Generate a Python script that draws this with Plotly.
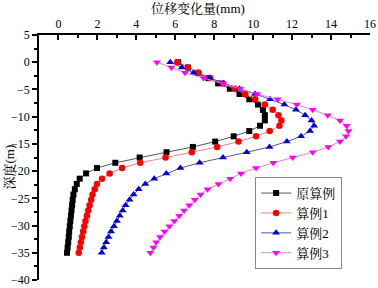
import plotly.graph_objects as go

depth = [0, -0.97, -1.94, -2.92, -3.89, -4.86, -5.83, -6.81, -7.78, -8.75,
         -9.72, -10.69, -11.67, -12.64, -13.61, -14.58, -15.56, -16.53, -17.5, -18.47,
         -19.44, -20.42, -21.39, -22.36, -23.33, -24.31, -25.28, -26.25, -27.22, -28.19,
         -29.17, -30.14, -31.11, -32.08, -33.06, -34.03, -35]

orig = [6.15, 6.65, 7.15, 7.7, 8.2, 8.8, 9.3, 9.8, 10.25, 10.5,
        10.6, 10.6, 10.35, 9.8, 9.0, 8.05, 6.9, 5.55, 4.17, 2.92,
        1.98, 1.42, 1.09, 0.94, 0.84, 0.77, 0.73, 0.70, 0.67, 0.64,
        0.61, 0.58, 0.55, 0.53, 0.50, 0.47, 0.44]

case1 = [6.1, 6.65, 7.2, 7.8, 8.45, 9.05, 9.6, 10.1, 10.6, 11.0,
         11.3, 11.45, 11.35, 10.85, 10.15, 9.25, 8.15, 6.85, 5.5, 4.2,
         3.27, 2.63, 2.24, 1.98, 1.86, 1.75, 1.68, 1.6, 1.53, 1.46,
         1.39, 1.33, 1.27, 1.21, 1.15, 1.1, 1.04]

case2 = [5.74, 6.34, 6.94, 7.76, 8.48, 9.3, 10.1, 10.87, 11.6, 12.2,
         12.67, 13.0, 13.13, 12.92, 12.46, 11.73, 10.84, 9.67, 8.45, 7.25,
         6.26, 5.54, 4.92, 4.46, 4.12, 3.86, 3.65, 3.45, 3.3, 3.15,
         3.0, 2.85, 2.7, 2.57, 2.45, 2.33, 2.22]

case3 = [5.06, 5.8, 6.5, 7.45, 8.45, 9.33, 10.2, 11.26, 12.24, 13.06,
         13.83, 14.46, 14.8, 14.9, 14.77, 14.46, 13.86, 13.06, 12.03, 11.04,
         10.15, 9.38, 8.82, 8.22, 7.66, 7.3, 7.0, 6.72, 6.45, 6.2,
         5.95, 5.7, 5.45, 5.22, 5.02, 4.88, 4.72]

names = ["原算例", "算例1", "算例2", "算例3"]
series = [orig, case1, case2, case3]
marker_colors = ["#000000", "#FF0000", "#0000CC", "#FF00FF"]
line_colors = ["#555555", "#E88080", "#5555AA", "#E080E0"]
symbols = ["square", "circle", "triangle-up", "triangle-down"]
marker_sizes = [6, 6.5, 7, 7]

fig = go.Figure()
for name, xs, mc, lc, sym, ms in zip(names, series, marker_colors, line_colors, symbols, marker_sizes):
    fig.add_trace(go.Scatter(
        x=xs, y=depth, mode="lines+markers", name=name,
        line=dict(color=lc, width=1),
        marker=dict(symbol=sym, color=mc, size=ms, line=dict(width=0)),
    ))

font_fam = "Liberation Serif, Noto Serif CJK SC, Noto Sans CJK SC, serif"
fig.update_layout(
    width=378, height=288,
    margin=dict(l=39, r=8, t=35, b=8),
    paper_bgcolor="white", plot_bgcolor="white",
    font=dict(family=font_fam, size=13, color="black"),
    showlegend=True,
    legend=dict(
        x=0.653, y=0.42, xanchor="left", yanchor="top",
        bordercolor="#888888", borderwidth=1, bgcolor="white",
        font=dict(family=font_fam, size=13),
        tracegroupgap=0, itemwidth=30,
    ),
    xaxis=dict(
        range=[-1, 16], side="top", dtick=2, tick0=0,
        showgrid=False, zeroline=False, automargin=False,
        showline=True, linecolor="black", linewidth=1.5,
        ticks="inside", ticklen=5, tickwidth=1.5, tickcolor="black",
        minor=dict(dtick=1, ticks="inside", ticklen=3, tickcolor="black"),
        tickfont=dict(family=font_fam, size=12),
    ),
    yaxis=dict(
        range=[-40, 5], dtick=5, tick0=0,
        showgrid=False, zeroline=False, automargin=False,
        showline=True, linecolor="black", linewidth=1.5,
        ticks="outside", ticklen=5, tickwidth=1.5, tickcolor="black",
        minor=dict(dtick=2.5, ticks="outside", ticklen=3, tickcolor="black"),
        tickfont=dict(family=font_fam, size=12),
    ),
    annotations=[
        dict(text="位移变化量(mm)", xref="paper", yref="paper",
             x=0.48, y=1.0, yshift=27, xanchor="center", yanchor="middle",
             showarrow=False, font=dict(family=font_fam, size=13)),
        dict(text="深度(m)", xref="paper", yref="paper",
             x=-0.09, y=0.46, xanchor="center", yanchor="middle",
             textangle=-90, showarrow=False, font=dict(family=font_fam, size=13)),
    ],
)

fig.write_html("out.html", config={"displayModeBar": False},
               post_script="document.body.style.margin='0';document.body.style.overflow='hidden';")
